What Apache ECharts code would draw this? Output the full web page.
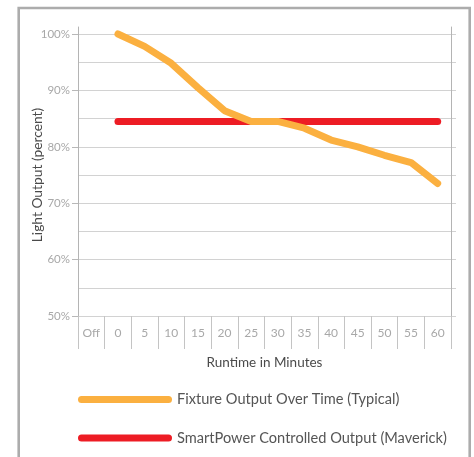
<!DOCTYPE html>
<html>
<head>
<meta charset="utf-8">
<script src="https://cdn.jsdelivr.net/npm/echarts@6/dist/echarts.min.js"></script>
<style>
html,body{margin:0;padding:0;background:#fff;}
#chart{width:474px;height:457px;}
</style>
</head>
<body>
<div id="chart"></div>
<script>
const categories = ['Off','0','5','10','15','20','25','30','35','40','45','50','55','60'];
const fixtureOutput = [null, 100, 97.8, 94.8, 90.5, 86.4, 84.5, 84.5, 83.3, 81.2, 80.0, 78.5, 77.2, 73.5];
const smartPowerOutput = [null, 84.5, 84.5, 84.5, 84.5, 84.5, 84.5, 84.5, 84.5, 84.5, 84.5, 84.5, 84.5, 84.5];
const seriesNames = ['Fixture Output Over Time (Typical)', 'SmartPower Controlled Output (Maverick)'];
const yMin = 50, yMax = 100, yStep = 10;

const FONT = 'Lato, "Open Sans", sans-serif';
const chart = echarts.init(document.getElementById('chart'), null, {renderer: 'canvas'});
const legendIcon = 'path://M3.5 0H90.5A3.5 3.5 0 0 1 90.5 7H3.5A3.5 3.5 0 0 1 3.5 0Z';

chart.setOption({
  animation: false,
  backgroundColor: '#fff',
  textStyle: {fontFamily: FONT},
  graphic: [{
    type: 'rect', z: -10,
    shape: {x: 18.7, y: 8, width: 451, height: 470},
    style: {fill: 'none', stroke: '#acacac', lineWidth: 2.6}
  }],
  grid: [
    {left: 78, right: 18, top: 34, bottom: 141},
    {left: 78, right: 23, top: 27, bottom: 141}
  ],
  xAxis: [
    {gridIndex: 0, type: 'value', show: false, min: 0, max: 1},
    {
      gridIndex: 1, type: 'category', data: categories, boundaryGap: true,
      axisLine: {show: false},
      axisTick: {show: true, interval: 0, length: 33, lineStyle: {color: '#c4c4c4', width: 1}},
      axisLabel: {interval: 0, color: '#a8a8a8', fontSize: 12, margin: 11, fontFamily: FONT},
      name: 'Runtime in Minutes', nameLocation: 'middle', nameGap: 40,
      nameTextStyle: {color: '#4a4a4a', fontSize: 13.5, fontFamily: FONT}
    }
  ],
  yAxis: [
    {
      gridIndex: 0, type: 'value', min: yMin, max: yMax, interval: yStep,
      axisLine: {show: false},
      axisTick: {show: true, length: 6, lineStyle: {color: '#b8b8b8'}},
      axisLabel: {color: '#a8a8a8', fontSize: 11.5, margin: 8, formatter: '{value}%', fontFamily: FONT},
      splitLine: {show: true, lineStyle: {color: '#d2d2d2', width: 1}},
      minorTick: {show: false, splitNumber: 2},
      minorSplitLine: {show: true, lineStyle: {color: '#d2d2d2', width: 1}},
      name: 'Light Output (percent)', nameLocation: 'middle', nameGap: 33,
      nameMoveOverlap: false,
      nameTextStyle: {color: '#4a4a4a', fontSize: 13.8, fontFamily: FONT}
    },
    {
      gridIndex: 1, type: 'value', min: yMin, max: yMax + 7 / 5.65, position: 'left',
      axisLine: {show: true, lineStyle: {color: '#b4b4b4', width: 1}},
      axisTick: {show: false}, axisLabel: {show: false}, splitLine: {show: false}
    },
    {
      gridIndex: 1, type: 'value', min: yMin, max: yMax + 7 / 5.65, position: 'right',
      axisLine: {show: true, lineStyle: {color: '#b4b4b4', width: 1}},
      axisTick: {show: false}, axisLabel: {show: false}, splitLine: {show: false}
    }
  ],
  legend: {
    orient: 'vertical', left: 78, top: 392, padding: 0,
    data: seriesNames, icon: legendIcon,
    itemWidth: 94, itemHeight: 7, itemGap: 23.5,
    textStyle: {color: '#555', fontSize: 14.6, fontFamily: FONT}
  },
  series: [
    {
      name: seriesNames[1], type: 'line', xAxisIndex: 1, yAxisIndex: 1,
      data: smartPowerOutput, showSymbol: false, symbol: 'none',
      color: '#ed1c24',
      lineStyle: {color: '#ed1c24', width: 7, cap: 'round', join: 'round'},
      z: 2
    },
    {
      name: seriesNames[0], type: 'line', xAxisIndex: 1, yAxisIndex: 1,
      data: fixtureOutput, showSymbol: false, symbol: 'none',
      color: '#fbb040',
      lineStyle: {color: '#fbb040', width: 7, cap: 'round', join: 'round'},
      z: 3
    }
  ]
});
</script>
</body>
</html>
